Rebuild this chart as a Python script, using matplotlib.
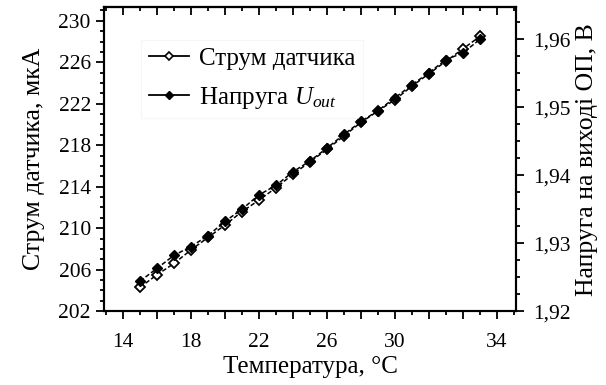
import matplotlib
matplotlib.use("Agg")
import matplotlib.pyplot as plt
from matplotlib.lines import Line2D
from matplotlib.ticker import FixedLocator, MultipleLocator

plt.rcParams['font.family'] = ['Liberation Serif', 'DejaVu Serif']
plt.rcParams['mathtext.fontset'] = 'custom'
plt.rcParams['mathtext.rm'] = 'Liberation Serif'
plt.rcParams['mathtext.it'] = 'Liberation Serif:italic'

# temperature points, deg C
temperature = [15, 16, 17, 18, 19, 20, 21, 22, 23, 24, 25,
               26, 27, 28, 29, 30, 31, 32, 33, 34, 35]
# sensor current, uA (left axis)
current = [204.3, 205.5, 206.6, 207.9, 209.1, 210.3, 211.6, 212.7, 213.9, 215.2, 216.4,
           217.6, 218.9, 220.2, 221.3, 222.4, 223.7, 224.9, 226.1, 227.3, 228.5]
# op-amp output voltage, V (right axis)
voltage = [1.9244, 1.9263, 1.9282, 1.9295, 1.9311, 1.9332, 1.9350, 1.9371, 1.9385, 1.9405, 1.9421,
           1.9440, 1.9460, 1.9479, 1.9495, 1.9514, 1.9533, 1.9551, 1.9570, 1.9580, 1.9600]

# tick labels as printed on the original axes
xtick_pos = [14, 16, 18, 20, 22, 24, 26, 28, 30, 32, 34, 36]
xtick_lab = ['14', '', '18', '', '22', '', '26', '', '30', '', '', '34']
ytick_left = [202, 206, 210, 214, 218, 222, 226, 230]
ytick_right = [1.92, 1.93, 1.94, 1.95, 1.96]

fig = plt.figure(figsize=(6.06, 3.85), dpi=100)
ax = fig.add_axes([0.1716, 0.192, 0.680, 0.789])
ax2 = ax.twinx()

fs_tick = 15.5
fs_xlab = 18
fs_ylab = 18.5
ax.plot(temperature, current, color='black', ls=(0, (3, 1.5)), lw=1.1,
        marker='D', ms=5.5, mfc='white', mec='black', mew=1.3, zorder=3)
ax2.plot(temperature, voltage, color='black', ls=(0, (3, 1.5)), lw=1.1,
         marker='D', ms=5.5, mfc='black', mec='black', mew=1.0, zorder=3)

ax.set_xlim(12.88, 37.12)
ax.set_ylim(202, 231.3)
ax2.set_ylim(1.92, 1.9647)

ax.xaxis.set_major_locator(FixedLocator(xtick_pos))
ax.set_xticklabels(xtick_lab)
ax.xaxis.set_minor_locator(MultipleLocator(1))
ax.yaxis.set_major_locator(FixedLocator(ytick_left))
ax.yaxis.set_minor_locator(MultipleLocator(1))
ax2.yaxis.set_major_locator(FixedLocator(ytick_right))
ax2.set_yticklabels([f"{v:.2f}".replace('.', ',') for v in ytick_right])
ax2.yaxis.set_minor_locator(MultipleLocator(0.0025))

for a, axis, pad in ((ax, 'x', 10), (ax, 'y', 3.5), (ax2, 'y', 6)):
    a.tick_params(axis=axis, which='both', direction='out', labelsize=fs_tick, width=1.3, pad=pad)
    a.tick_params(axis=axis, which='major', length=6)
    a.tick_params(axis=axis, which='minor', length=3)

# top axis: inward ticks, no labels
top = ax.secondary_xaxis('top')
top.xaxis.set_major_locator(FixedLocator(xtick_pos))
top.xaxis.set_minor_locator(MultipleLocator(1))
top.tick_params(which='both', direction='in', labeltop=False, width=1.3)
top.tick_params(which='major', length=6)
top.tick_params(which='minor', length=3)

for sp in list(ax.spines.values()) + list(ax2.spines.values()) + list(top.spines.values()):
    sp.set_linewidth(1.5)

ax.set_xlabel('Температура, °C', fontsize=fs_xlab, labelpad=3)
ax.set_ylabel('Струм датчика, мкА', fontsize=fs_ylab, labelpad=10)
ax2.set_ylabel('Напруга на виході ОП, В', fontsize=fs_ylab, labelpad=4)

handles = [
    Line2D([], [], color='black', lw=1.3, marker='D', ms=4.5, mfc='white', mec='black', mew=1.2),
    Line2D([], [], color='black', lw=1.3, marker='D', ms=4.5, mfc='black', mec='black'),
]
leg = ax.legend(handles, ['Струм датчика', 'Напруга $\\mathit{U}_{out}$'],
                loc='upper left', bbox_to_anchor=(0.06, 0.935), fontsize=fs_xlab,
                frameon=True, fancybox=False, edgecolor='#f4f4f4',
                handlelength=1.6, handletextpad=0.4, labelspacing=0.6, borderpad=0.3)
leg.get_frame().set_linewidth(0.8)

fig.savefig('out.png', dpi=100)
